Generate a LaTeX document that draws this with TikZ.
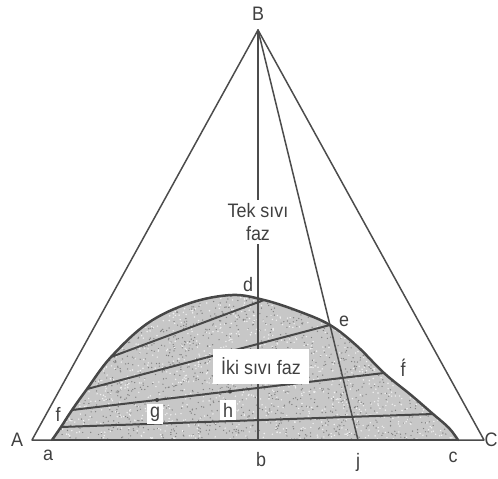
\documentclass[tikz,border=0pt]{standalone}
\usepackage{fontspec}
\setmainfont[FakeStretch=0.92]{Liberation Sans}
\begin{document}
\begin{tikzpicture}[x=1pt,y=-1pt,line join=round,line cap=round]
\useasboundingbox (0,0) rectangle (498,479);
\tikzset{
  edge/.style={draw=black!70, line width=1.5pt},
  vline/.style={draw=black!70, line width=1.8pt},
  tie/.style={draw=black!72, line width=2pt},
  rim/.style={draw=black!72, line width=2.5pt},
  lbl/.style={text=black!75, font=\fontsize{19.5}{23}\selectfont, inner sep=1pt},
  boxlbl/.style={lbl, fill=white, inner sep=3pt},
  dotmark/.style={fill=black!75, circle, inner sep=0pt, minimum size=4pt}
}
% main vertices
\coordinate (B) at (258,30);
\coordinate (A) at (32,440);
\coordinate (C) at (484,440);
\coordinate (b) at (258,440);
\coordinate (j) at (358,440);
% dome points
\coordinate (a) at (52,440);
\coordinate (L4) at (61,427);
\coordinate (L3) at (72,410);
\coordinate (L2) at (87,389);
\coordinate (L1) at (111,357);
\coordinate (P1) at (148,323);
\coordinate (P2) at (190,303);
\coordinate (P3) at (232,295);
\coordinate (R1) at (264,300);
\coordinate (P4) at (298,311);
\coordinate (e) at (330,325);
\coordinate (P5) at (357,346);
\coordinate (R3) at (384,373);
\coordinate (P6) at (411,395);
\coordinate (R4) at (433,414);
\coordinate (P7) at (449,428);
\coordinate (c) at (458,440);
\def\domepath{plot[smooth,tension=0.6] coordinates {(a) (L4) (L3) (L2) (L1) (P1) (P2) (P3) (R1) (P4) (e) (P5) (R3) (P6) (R4) (P7) (c)}}
% dome fill with speckle texture
\fill[black!22] \domepath -- cycle;
\begin{scope}
  \clip \domepath -- cycle;
  \pgfmathsetseed{7}
  \foreach \i in {1,...,1800} {\fill[black!50] ({50+410*rnd},{290+152*rnd}) circle (0.7pt);}
  \foreach \i in {1,...,1500} {\fill[black!6] ({50+410*rnd},{290+152*rnd}) circle (0.8pt);}
\end{scope}
% triangle and rays from B
\draw[edge] (A) -- (B) -- (C) -- cycle;
\draw[edge] (B) -- (j);
\draw[vline] (B) -- (b);
% tie lines
\draw[tie] (L1) -- (R1);
\draw[tie] (L2) -- (e);
\draw[tie] (L3) -- (R3);
\draw[tie] (L4) -- (R4);
% dome outline and base
\draw[rim] \domepath;
\draw[rim] (a) -- (c);
% boxed labels
\node[boxlbl, align=center] (tek) at (258,222) {Tek sıvı\\faz};
\node[boxlbl, minimum width=96pt, minimum height=35pt] (iki) at (261,366) {İki sıvı faz};
\node[boxlbl] (glbl) at (155,414) {g};
\node[boxlbl] (hlbl) at (228,410) {h};
% points g, h on tie line
\node[dotmark] (gpt) at (157,400) {};
\node[dotmark] (hpt) at (230,391.5) {};
% letter labels
\node[lbl] (Blbl) at (258,14) {B};
\node[lbl] (Albl) at (17,440) {A};
\node[lbl] (Clbl) at (491,440) {C};
\node[lbl] (albl) at (48,455) {a};
\node[lbl] (blbl) at (261,460) {b};
\node[lbl] (jlbl) at (358,462) {j};
\node[lbl] (clbl) at (453,457) {c};
\node[lbl] (dlbl) at (248,285) {d};
\node[lbl] (elbl) at (344,321) {e};
\node[lbl] (fplbl) at (403,368) {\'f};
\node[lbl] (flbl) at (58,414) {f};
\end{tikzpicture}
\end{document}
